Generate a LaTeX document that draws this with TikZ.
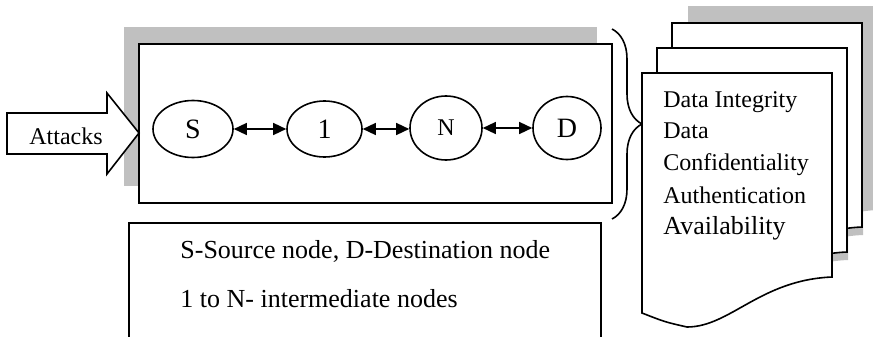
\documentclass[tikz,border=0pt]{standalone}
\usepackage{fontspec}
\setmainfont{Liberation Serif}
\usetikzlibrary{shapes.geometric, arrows.meta, positioning, shadows, decorations.pathreplacing}
\definecolor{shade-gray}{RGB}{192,192,192}

\begin{document}
\begin{tikzpicture}[
    x=0.5pt, y=-0.5pt,
    frame/.style={draw=black, line width=0.8pt},
    netbox/.style={rectangle, frame, fill=white, minimum width=236.5pt, minimum height=79.5pt, drop shadow={shadow xshift=-7.5pt, shadow yshift=8.5pt, fill=shade-gray, opacity=1}},
    hop/.style={ellipse, frame, fill=white, inner sep=0pt, font=\fontsize{14}{16}\selectfont},
    link/.style={{Triangle[length=6.5pt,width=6pt]}-{Triangle[length=6.5pt,width=6pt]}, line width=0.7pt},
    page/.style={frame, fill=white},
    txt/.style={anchor=base west, inner sep=0pt, font=\fontsize{12}{14}\selectfont}
]
\useasboundingbox (0,0) rectangle (873,337);
\clip (0,0) rectangle (873,337);

% Network (left side)
\node[netbox] (net) at (375.5,123.5) {};
\node[hop, minimum width=40pt, minimum height=28.5pt] (src) at (193,129) {S};
\node[hop, minimum width=37.5pt, minimum height=28pt] (n1) at (324.5,129) {1};
\node[hop, minimum width=36pt, minimum height=32pt, font=\fontsize{12}{14}\selectfont] (nn) at (446,128) {N};
\node[hop, minimum width=34pt, minimum height=31.5pt] (dst) at (567,128) {D};
\draw[link] (src.east) -- (n1.west);
\draw[link] (n1.east) -- (n1.east -| nn.west);
\draw[link] (nn.east) -- (nn.east -| dst.west);

% Attacks arrow
\draw[frame, fill=white] (7,113) -- (107,113) -- (107,93) -- (139,133) -- (107,174) -- (107,154) -- (7,154) -- cycle;
\node[txt] (attacks) at (29,144) {Attacks};

% Legend
\node[rectangle, frame, minimum width=236pt, minimum height=61pt] (legend) at (365,284) {};
\node[txt, font=\fontsize{13}{15}\selectfont] (key-sd) at (180,258) {S-Source node, D-Destination node};
\node[txt, font=\fontsize{13}{15}\selectfont] (key-mid) at (180,307) {1 to N- intermediate nodes};

% Brace
\coordinate (brace-top) at (612,29);
\coordinate (brace-bot) at (612,219);
\draw[decorate, decoration={brace, amplitude=15pt}, line width=0.8pt] (brace-top) -- (brace-bot);

% Security pages (right side)
\foreach \dx/\dy in {46/-67, 31/-42, 16/-17}
  \fill[shade-gray, shift={(\dx,\dy)}] (642,73) -- (832,73) -- (832,277)
    .. controls (760,280) and (730,327) .. (687,327) .. controls (665,322) .. (642,313) -- cycle;
\foreach \dx/\dy in {30/-50, 15/-25, 0/0}
  \draw[page, shift={(\dx,\dy)}] (642,73) -- (832,73) -- (832,277)
    .. controls (760,280) and (730,327) .. (687,327) .. controls (665,322) .. (642,313) -- cycle;
\node[txt] (integrity) at (663,107) {Data Integrity};
\node[txt] (data) at (663,138) {Data};
\node[txt] (confid) at (663,170) {Confidentiality};
\node[txt] (auth) at (663,203) {Authentication};
\node[txt, font=\fontsize{13}{15}\selectfont] (avail) at (663,234) {Availability};

\end{tikzpicture}
\end{document}
